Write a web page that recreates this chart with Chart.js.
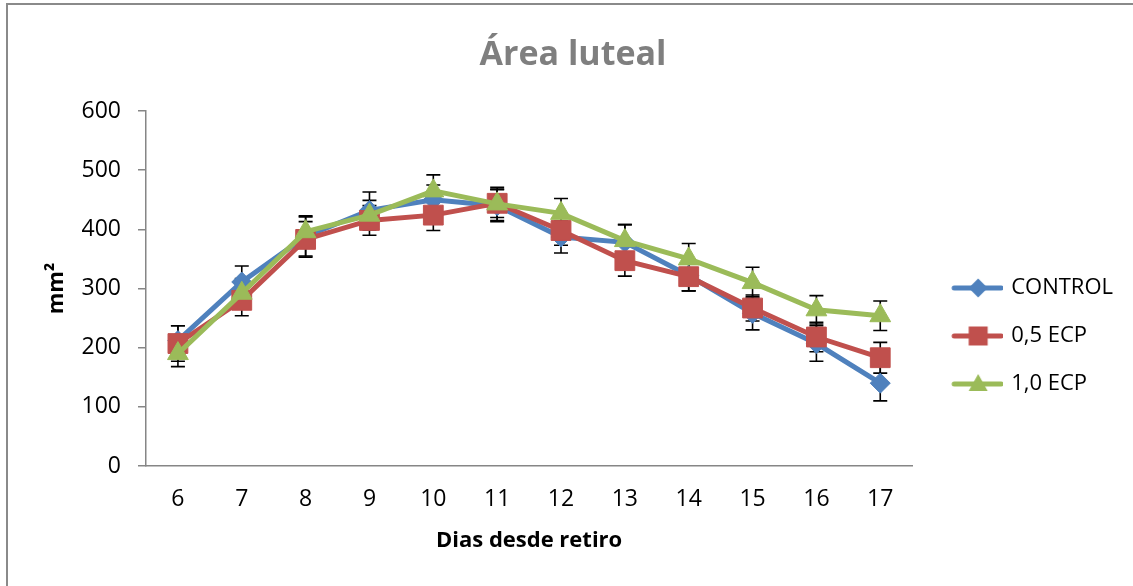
<!DOCTYPE html>
<html><head><meta charset="utf-8">
<script src="https://cdn.jsdelivr.net/npm/chart.js@4.4.1/dist/chart.umd.min.js"></script>
<style>html,body{margin:0;padding:0;background:#fff;overflow:hidden}#wrap{position:relative;width:1133px;height:586px}</style>
</head><body><div id="wrap"><canvas id="c" width="1133" height="586"></canvas></div>
<script>
// ---- data ----
const dias = ['6','7','8','9','10','11','12','13','14','15','16','17'];
const control   = [212, 311, 388, 432, 450, 440, 387, 378, 322, 258, 207, 140];
const seControl = [25, 27, 33, 31, 25, 27, 27, 30, 26, 28, 30, 30];
const ecp05     = [207, 280, 383, 415, 424, 444, 398, 347, 320, 267, 218, 183];
const seEcp05   = [30, 26, 30, 25, 26, 24, 25, 26, 24, 22, 25, 26];
const ecp10     = [190, 292, 396, 424, 465, 443, 427, 381, 350, 310, 264, 254];
const seEcp10   = [22, 25, 27, 25, 27, 28, 25, 27, 26, 26, 24, 25];
const seriesNames = ['CONTROL', '0,5 ECP', '1,0 ECP'];
const yTicks = [0, 100, 200, 300, 400, 500, 600];

const FONT = "'Open Sans', sans-serif";
const BLUE = '#4F81BD', RED = '#C0504D', GREEN = '#9BBB59';

function legendImg(color, style) {
  const c = document.createElement('canvas');
  c.width = 68; c.height = 28;
  const g = c.getContext('2d');
  g.strokeStyle = color; g.lineWidth = 5; g.lineCap = 'round';
  g.beginPath(); g.moveTo(19, 14); g.lineTo(66, 14); g.stroke();
  g.fillStyle = color;
  const cx = 43, cy = 14;
  g.beginPath();
  if (style === 'rectRot') {
    g.moveTo(cx, cy - 9.5); g.lineTo(cx + 9.5, cy); g.lineTo(cx, cy + 9.5); g.lineTo(cx - 9.5, cy);
  } else if (style === 'rect') {
    g.rect(cx - 9.5, cy - 9.5, 19, 19);
  } else {
    g.moveTo(cx, cy - 10); g.lineTo(cx + 9.5, cy + 7); g.lineTo(cx - 9.5, cy + 7);
  }
  g.closePath(); g.fill();
  return c;
}

const errors = [seControl, seEcp05, seEcp10];

const errorBars = {
  id: 'errorBars',
  beforeDatasetsDraw(chart) {
    const ctx = chart.ctx, ys = chart.scales.y;
    ctx.save();
    ctx.strokeStyle = '#000'; ctx.lineWidth = 1.6;
    chart.data.datasets.forEach((ds, i) => {
      const meta = chart.getDatasetMeta(i);
      meta.data.forEach((pt, j) => {
        const v = ds.data[j], e = errors[i][j];
        const x = pt.x, y1 = ys.getPixelForValue(v + e), y2 = ys.getPixelForValue(v - e);
        ctx.beginPath();
        ctx.moveTo(x, y1); ctx.lineTo(x, y2);
        ctx.moveTo(x - 7, y1); ctx.lineTo(x + 7, y1);
        ctx.moveTo(x - 7, y2); ctx.lineTo(x + 7, y2);
        ctx.stroke();
      });
    });
    ctx.restore();
  }
};

const frame = {
  id: 'frame',
  beforeDraw(chart) {
    const ctx = chart.ctx;
    ctx.save();
    ctx.fillStyle = '#fff'; ctx.fillRect(0, 0, chart.width, chart.height);
    ctx.strokeStyle = '#8a8a8a'; ctx.lineWidth = 2;
    ctx.beginPath(); ctx.moveTo(7, 586); ctx.lineTo(7, 4); ctx.lineTo(1133, 4); ctx.stroke();
    ctx.restore();
  },
  afterLayout(chart) {
    const lg = chart.legend;
    if (lg) { lg.top += 47.5; lg.bottom += 47.5; }
  }
};

const styles = ['rectRot', 'rect', 'triangle'];
const colors = [BLUE, RED, GREEN];
const imgs = styles.map((s, i) => legendImg(colors[i], s));

new Chart(document.getElementById('c'), {
  type: 'line',
  data: {
    labels: dias,
    datasets: [
      { label: seriesNames[0], data: control, borderColor: BLUE, backgroundColor: BLUE, pointBackgroundColor: BLUE, pointBorderColor: BLUE,
        borderWidth: 5, pointStyle: 'rectRot', pointRadius: 10, pointBorderWidth: 1, order: 2, tension: 0 },
      { label: seriesNames[1], data: ecp05, borderColor: RED, backgroundColor: RED, pointBackgroundColor: RED, pointBorderColor: RED,
        borderWidth: 5, pointStyle: 'rect', pointRadius: 14, pointBorderWidth: 1, order: 1, tension: 0 },
      { label: seriesNames[2], data: ecp10, borderColor: GREEN, backgroundColor: GREEN, pointBackgroundColor: GREEN, pointBorderColor: GREEN,
        borderWidth: 5, pointStyle: 'triangle', pointRadius: 12, pointBorderWidth: 1, order: 0, tension: 0 }
    ]
  },
  options: {
    responsive: false, animation: false, devicePixelRatio: 1,
    layout: { padding: { left: 23, right: 10, top: 0, bottom: 0 } },
    scales: {
      x: {
        type: 'category', offset: true,
        grid: { display: true, drawOnChartArea: false, drawTicks: false },
        border: { color: '#868686', width: 1.5 },
        ticks: { font: { size: 23, family: FONT }, color: '#000', padding: 20 },
        title: { display: true, text: 'Dias desde retiro', color: '#000', font: { size: 22, family: FONT, weight: 'bold' }, padding: { top: 0, bottom: 31.8 } },
        afterFit: s => { s.height = 120; }
      },
      y: {
        min: 0, max: 600,
        afterBuildTicks: s => { s.ticks = yTicks.map(v => ({ value: v })); },
        grid: { drawOnChartArea: false, drawTicks: true, tickLength: 8, color: '#868686', lineWidth: 1.5 },
        border: { color: '#868686', width: 1.5 },
        ticks: { font: { size: 23, family: FONT }, color: '#000', padding: 17 },
        title: { display: true, text: 'mm²', color: '#000', font: { size: 22, family: FONT, weight: 'bold' }, padding: { top: 20.4, bottom: 0 } },
        afterFit: s => { s.width = 123; }
      }
    },
    plugins: {
      title: { display: true, text: 'Área luteal', color: '#7f7f7f', font: { size: 34, family: FONT, weight: 'bold' }, padding: { top: 35, bottom: 35.2 } },
      legend: {
        position: 'right', fullSize: false, align: 'center',
        labels: {
          usePointStyle: true, pointStyleWidth: 62, padding: 26,
          font: { size: 22, family: FONT }, color: '#000',
          generateLabels: chart => chart.data.datasets.map((ds, i) => ({
            text: ds.label, pointStyle: imgs[i], fillStyle: colors[i], strokeStyle: colors[i],
            lineWidth: 0, hidden: false, datasetIndex: i, fontColor: '#000'
          }))
        }
      },
      tooltip: { enabled: false }
    }
  },
  plugins: [errorBars, frame]
});
</script>
</body></html>
